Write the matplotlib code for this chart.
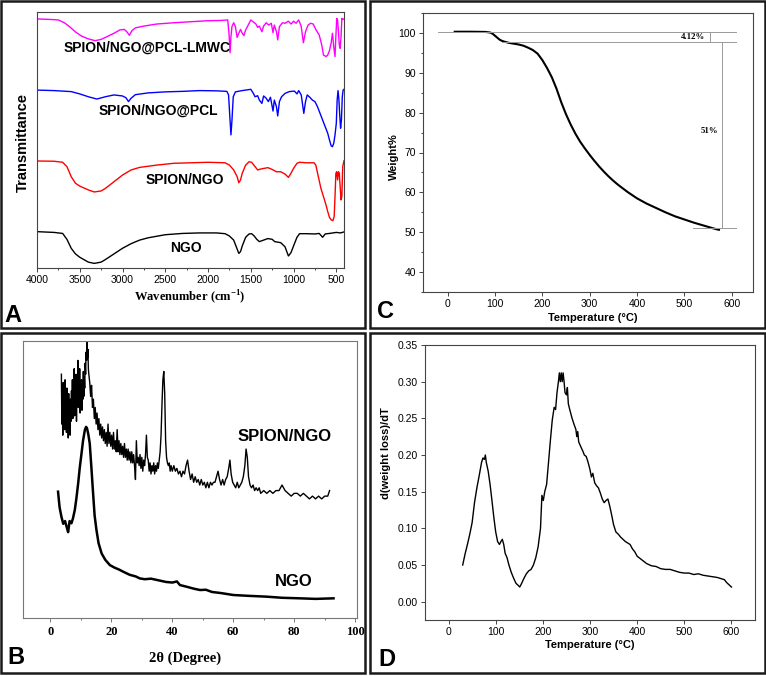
import numpy as np
import matplotlib
matplotlib.use("Agg")
import matplotlib.pyplot as plt
from matplotlib.patches import Rectangle
from matplotlib.ticker import MultipleLocator

W, H = 766, 676
SANS = "Liberation Sans"
SERIF = "Liberation Serif"
plt.rcParams["font.family"] = SANS
plt.rcParams["mathtext.fontset"] = "custom"
plt.rcParams["mathtext.bf"] = "Liberation Serif:bold"

# ---- Panel A: FTIR (stacked, arbitrary transmittance units) ----
ngo_wn = [4000, 3800, 3700, 3650, 3600, 3550, 3500, 3400, 3330, 3250, 3200, 3100, 3000, 2900,
          2800, 2700, 2500, 2300, 2100, 1900, 1800, 1750, 1700, 1670, 1640, 1620, 1600, 1560,
          1520, 1490, 1460, 1430, 1400, 1350, 1300, 1250, 1220, 1150, 1100, 1060, 1030, 1000,
          960, 930, 850, 750, 700, 660, 630, 580, 500, 450, 410]
ngo_t = [14.2, 13.9, 13.5, 11.2, 7.7, 5.5, 4.2, 2.3, 1.8, 2.3, 3.3, 5.5, 7.7, 9.5,
         10.9, 11.8, 13.0, 13.5, 13.7, 13.7, 13.4, 12.5, 10.9, 8.3, 5.7, 6.4, 8.6, 12.0,
         13.3, 13.4, 12.5, 11.2, 10.3, 10.9, 11.5, 11.2, 10.3, 9.9, 8.3, 4.7, 6.0, 8.6,
         12.0, 13.4, 13.4, 13.3, 13.5, 12.0, 13.3, 13.5, 13.9, 13.7, 14.1]

sn_wn = [4000, 3800, 3700, 3650, 3600, 3550, 3500, 3400, 3330, 3250, 3200, 3100, 3000, 2900,
         2800, 2600, 2400, 2200, 2000, 1800, 1750, 1700, 1660, 1640, 1620, 1600, 1560, 1520,
         1490, 1450, 1420, 1380, 1300, 1250, 1200, 1150, 1100, 1060, 1030, 1000, 960, 930,
         850, 760, 740, 710, 680, 650, 620, 600, 580, 560, 540, 525, 515, 505, 495, 485,
         475, 465, 455, 445, 435, 425, 410]
sn_t = [41.8, 41.7, 41.3, 39.6, 35.7, 33.1, 32.0, 30.5, 29.7, 30.1, 31.1, 33.7, 36.3, 38.3,
        39.3, 40.2, 40.9, 41.1, 41.3, 41.1, 40.2, 38.3, 35.7, 33.3, 34.4, 37.0, 40.2, 41.5,
        41.3, 39.6, 38.3, 38.7, 39.2, 38.5, 37.6, 37.6, 36.7, 35.4, 37.0, 38.9, 40.9, 41.3,
        41.1, 41.1, 40.2, 35.7, 31.1, 27.9, 24.6, 22.0, 19.8, 18.8, 18.5, 20.1, 27.9, 37.0,
        37.6, 34.4, 37.6, 37.0, 31.8, 26.6, 28.0, 39.6, 41.9]

pcl_wn = [4000, 3800, 3600, 3500, 3400, 3300, 3200, 3100, 3000, 2960, 2930, 2900, 2850, 2700,
          2500, 2300, 2100, 1900, 1780, 1760, 1745, 1732, 1720, 1705, 1680, 1600, 1500, 1470,
          1450, 1420, 1400, 1370, 1350, 1320, 1295, 1270, 1240, 1225, 1200, 1185, 1165, 1140,
          1100, 1050, 990, 960, 940, 910, 880, 860, 840, 810, 780, 750, 720, 690, 660, 630,
          600, 580, 560, 545, 530, 515, 500, 490, 480, 470, 460, 450, 440, 430, 420, 410]
pcl_t = [69.5, 69.3, 68.9, 68.0, 66.9, 66.0, 66.9, 67.6, 67.2, 66.5, 65.0, 66.3, 67.7, 68.4,
         68.8, 69.0, 69.3, 69.2, 69.0, 67.6, 59.1, 52.0, 57.8, 66.9, 68.8, 69.3, 69.8, 68.2,
         66.9, 67.3, 65.6, 64.3, 67.2, 66.3, 65.0, 66.7, 61.3, 65.6, 63.0, 59.4, 65.0, 66.9,
         68.2, 68.9, 69.1, 68.0, 69.3, 67.6, 60.4, 65.0, 67.6, 66.7, 65.6, 65.0, 63.0, 60.4,
         57.8, 55.2, 52.6, 50.0, 47.7, 47.4, 48.7, 52.0, 56.5, 65.6, 69.3, 66.0, 59.8, 54.6,
         57.8, 66.9, 69.5, 69.8]

lmwc_wn = [4000, 3850, 3750, 3680, 3620, 3550, 3480, 3400, 3320, 3250, 3180, 3100, 3030, 2980,
           2950, 2920, 2890, 2850, 2750, 2600, 2400, 2200, 2000, 1850, 1770, 1755, 1742, 1732,
           1720, 1700, 1680, 1660, 1640, 1620, 1600, 1580, 1560, 1530, 1500, 1470, 1440, 1420,
           1400, 1370, 1350, 1320, 1290, 1260, 1240, 1225, 1200, 1185, 1165, 1130, 1100, 1060,
           1030, 1000, 970, 940, 910, 885, 860, 830, 800, 770, 740, 700, 670, 650, 620, 600,
           580, 560, 545, 530, 515, 505, 495, 485, 475, 465, 455, 445, 435, 425, 410]
lmwc_t = [97.3, 97.1, 96.9, 95.8, 94.3, 92.2, 90.6, 89.5, 88.8, 89.3, 90.4, 91.7, 93.0, 93.2,
          92.3, 90.9, 92.7, 93.8, 94.5, 95.3, 95.8, 96.2, 96.6, 96.7, 96.9, 91.7, 84.1, 90.4,
          94.3, 95.8, 94.3, 90.1, 91.7, 93.2, 91.7, 90.8, 93.0, 94.9, 96.9, 96.1, 95.3, 94.0,
          94.5, 92.3, 94.5, 95.8, 94.9, 95.6, 91.9, 94.9, 92.3, 89.1, 94.3, 95.8, 95.6, 96.4,
          95.3, 96.4, 95.6, 96.9, 94.3, 88.0, 92.3, 94.9, 95.6, 95.3, 93.2, 91.0, 87.1, 83.2,
          82.6, 83.2, 84.9, 88.0, 91.7, 86.5, 82.6, 90.4, 97.5, 96.9, 92.3, 87.1, 85.8, 90.0,
          97.5, 97.1, 97.3]

ftir_names = ["SPION/NGO@PCL-LMWC", "SPION/NGO@PCL", "SPION/NGO", "NGO"]
ftir_label_wn = [2709, 2580, 2275, 2263]
ftir_label_t = [85.9, 61.3, 34.4, 7.8]

# ---- Panel B: XRD ----
xrd_ngo_2t = [2.5, 3.0, 3.6, 4.2, 4.8, 5.3, 5.8, 6.3, 6.9, 7.4, 8.0, 8.5, 9.1, 9.6, 10.2, 10.7,
              11.3, 11.7, 12.0, 12.4, 12.9, 13.4, 14.0, 14.5, 15.1, 15.8, 16.8, 18.0, 19.5,
              21.0, 22.5, 23.9, 26.0, 28.0, 29.3, 31.0, 33.0, 35.9, 38.0, 40.0, 41.5, 42.5,
              45.0, 47.0, 49.1, 51.0, 53.0, 56.0, 60.0, 65.0, 71.0, 76.0, 81.9, 87.0, 92.9]
xrd_ngo_i = [45.6, 40.0, 36.6, 34.0, 35.0, 33.0, 31.0, 35.0, 34.2, 36.0, 39.0, 43.0, 48.6, 54.0,
             59.4, 64.0, 67.9, 69.0, 68.5, 66.5, 63.0, 55.0, 45.0, 37.0, 31.8, 27.0, 23.3,
             21.0, 19.1, 18.2, 17.5, 16.7, 15.6, 15.0, 14.3, 14.0, 14.2, 13.5, 13.0, 12.8,
             13.2, 11.9, 11.2, 10.6, 10.1, 10.2, 9.4, 9.0, 8.3, 8.0, 7.7, 7.3, 7.1, 6.9, 7.1]

xrd_sn_2t = [3.60, 3.75, 3.90, 4.05, 4.20, 4.35, 4.50, 4.65, 4.80, 4.95, 5.10, 5.25, 5.40, 5.55,
             5.70, 5.85, 6.00, 6.15, 6.30, 6.45, 6.60, 6.75, 6.90, 7.05, 7.20, 7.35, 7.50, 7.65,
             7.80, 7.95, 8.10, 8.25, 8.40, 8.55, 8.70, 8.85, 9.00, 9.15, 9.30, 9.45, 9.60, 9.75,
             9.90, 10.05, 10.20, 10.35, 10.50, 10.65, 10.80, 10.95, 11.10, 11.25, 11.40, 11.55,
             11.70, 11.85, 12.00, 12.15, 12.30, 12.45, 12.60,
             12.9, 13.2, 13.5, 13.8, 14.1, 14.4, 14.7, 15.0, 15.3, 15.6, 15.9, 16.2, 16.5,
             16.8, 17.1, 17.4, 17.7, 18.0, 18.3, 18.6, 18.9, 19.2, 19.5, 19.8, 20.1, 20.4,
             20.7, 21.0, 21.3, 21.6, 21.9, 22.2, 22.5, 22.8, 23.1, 23.4, 23.7, 24.0, 24.3,
             24.6, 24.9, 25.2, 25.5, 25.8, 26.1, 26.4, 26.7, 27.0, 27.3, 27.6, 27.9, 28.2,
             28.5, 28.8, 29.1, 29.4, 29.7, 30.0, 30.3, 30.6, 30.9, 31.2, 31.5, 31.8, 32.1,
             32.4, 32.7, 33.0, 33.3, 33.6, 33.9, 34.2, 34.5, 34.8, 35.1, 35.4, 35.7, 36.0,
             36.3, 36.6, 36.9, 37.2, 37.5, 37.8, 38.1, 38.4, 38.7, 39.0, 39.3, 39.6, 40.0,
             40.5, 41.0, 41.5, 42.0, 42.5, 43.0, 43.5, 44.0, 44.5, 45.0, 45.5, 46.0, 46.5,
             47.0, 47.5, 48.0, 48.5, 49.0, 49.5, 50.0, 50.5, 51.0, 51.5, 52.0, 52.5, 53.0,
             53.5, 54.0, 54.5, 55.0, 55.5, 56.0, 56.5, 57.0, 57.5, 58.0, 58.5, 58.9, 59.3,
             59.8, 60.3, 60.8, 61.3, 61.8, 62.3, 62.8, 63.3, 63.8, 64.2, 64.6, 65.0, 65.5,
             66.0, 66.5, 67.0, 67.5, 68.0, 68.5, 69.0, 70.0, 71.0, 72.0, 73.0, 74.0, 75.0,
             76.0, 77.0, 78.0, 79.0, 80.0, 81.0, 82.0, 83.0, 84.0, 85.0, 86.0, 87.0, 88.0,
             89.0, 90.0, 91.0, 91.6]
xrd_sn_i = [88, 70, 80, 66, 85, 72, 78, 68, 86, 71, 80, 67, 83, 72,
            76, 65, 81, 70, 74, 66, 79, 71, 82, 74, 86, 72, 84, 75,
            90, 73, 85, 76, 88, 71, 83, 77, 93, 76, 87, 78, 90, 74,
            84, 77, 86, 75, 84, 79, 89, 80, 87, 83, 92, 88,
            96, 93, 100, 94, 97, 90, 88,
            85, 80, 84, 76, 79, 72, 76, 70, 74, 68, 72, 66, 70,
            65, 69, 64, 68, 63, 67, 62, 70, 63, 67, 62, 66, 61,
            67, 61, 64, 60, 68, 60, 64, 59, 63, 59, 62, 58, 63,
            58, 61, 57, 61, 57, 60, 56, 60, 56, 59, 55, 50, 64,
            56, 58, 55, 59, 54, 58, 53, 57, 55, 59, 66, 58, 57,
            53, 56, 52, 55, 53, 56, 52, 55, 53, 56, 54, 57, 60,
            66, 77, 86, 89, 81, 64, 58, 56, 55, 56, 53, 55, 53,
            55, 53, 54, 52, 53, 51, 53, 52, 55, 57, 53, 50, 52,
            49, 51, 49, 50, 48, 50, 48, 49, 47, 49, 47, 49, 48,
            49, 49, 51, 53, 50, 48, 50, 48, 50, 51, 54, 57, 52,
            49, 48, 47, 49, 47, 48, 49, 51, 55, 61, 58, 51, 48,
            47, 48, 46, 47, 46, 47, 45, 46, 45, 46, 45, 46, 46,
            48, 46, 45, 44, 45, 45, 44, 45, 44, 43, 44, 43, 44,
            43, 44, 44, 46]
xrd_names = ["SPION/NGO", "NGO"]
xrd_label_2t = [77.0, 79.7]
xrd_label_i = [65.7, 13.1]

# ---- Panel C: TGA ----
tga_temp = [15, 50, 80, 90, 95, 100, 105, 110, 115, 120, 130, 140, 150, 160, 170, 180, 190, 200,
            210, 220, 230, 240, 250, 260, 270, 280, 290, 300, 310, 320, 330, 340, 350, 360, 370,
            380, 390, 400, 420, 440, 460, 480, 500, 520, 540, 560, 573]
tga_wt = [100.3, 100.3, 100.25, 100.1, 99.8, 99.3, 98.8, 98.3, 98.0, 97.8, 97.5, 97.3, 97.1,
          96.8, 96.3, 95.7, 94.8, 93.2, 91.2, 88.9, 86.0, 82.6, 79.6, 77.0, 74.7, 72.7, 71.0,
          69.4, 67.9, 66.5, 65.2, 64.0, 62.9, 61.9, 61.0, 60.1, 59.3, 58.5, 57.2, 56.1, 55.0,
          54.0, 53.2, 52.4, 51.7, 51.0, 50.6]

# ---- Panel D: DTG ----
dtg_temp = [30, 35, 40, 45, 50, 55, 60, 65, 70, 73, 76, 78, 80, 84, 88, 92, 96, 100, 104, 108,
            111, 114, 117, 120, 124, 128, 133, 138, 143, 148, 151, 155, 160, 165, 170, 175,
            180, 185, 190, 195, 198, 201, 204, 208, 212, 216, 220, 224, 227, 230, 233, 235,
            237, 239, 241, 243, 245, 247, 250, 252, 254, 257, 262, 266, 270, 272, 274, 276,
            280, 285, 288, 292, 296, 300, 303, 306, 310, 314, 318, 322, 326, 330, 334, 338,
            342, 346, 350, 355, 360, 365, 370, 375, 380, 385, 390, 395, 400, 410, 420, 430,
            440, 450, 460, 470, 480, 490, 500, 510, 520, 530, 540, 550, 560, 570, 580, 585,
            590, 595, 600]
dtg_val = [0.050, 0.065, 0.078, 0.092, 0.108, 0.135, 0.155, 0.172, 0.190, 0.196, 0.194, 0.200,
           0.190, 0.178, 0.160, 0.138, 0.115, 0.095, 0.082, 0.078, 0.082, 0.085, 0.078, 0.066,
           0.060, 0.050, 0.040, 0.032, 0.025, 0.022, 0.020, 0.025, 0.032, 0.038, 0.042, 0.044,
           0.050, 0.060, 0.075, 0.100, 0.145, 0.138, 0.150, 0.160, 0.190, 0.220, 0.248, 0.265,
           0.262, 0.285, 0.300, 0.312, 0.300, 0.312, 0.300, 0.312, 0.300, 0.285, 0.282, 0.292,
           0.270, 0.262, 0.250, 0.242, 0.235, 0.225, 0.232, 0.218, 0.212, 0.205, 0.200, 0.198,
           0.190, 0.180, 0.170, 0.175, 0.162, 0.158, 0.155, 0.148, 0.140, 0.135, 0.138, 0.140,
           0.130, 0.118, 0.105, 0.095, 0.092, 0.088, 0.085, 0.082, 0.080, 0.078, 0.072, 0.068,
           0.062, 0.057, 0.052, 0.049, 0.048, 0.045, 0.044, 0.044, 0.042, 0.040, 0.039, 0.039,
           0.037, 0.038, 0.036, 0.035, 0.034, 0.033, 0.031, 0.030, 0.026, 0.023, 0.020]


def px_axes(fig, x0, y0, x1, y1):
    return fig.add_axes([x0 / W, 1 - y1 / H, (x1 - x0) / W, (y1 - y0) / H])


def px_text(fig, x, y, s, **kw):
    kw.setdefault("ha", "center")
    kw.setdefault("va", "center")
    fig.text(x / W, 1 - y / H, s, **kw)


def style_spines(ax, color="#444444", lw=0.8):
    for sp in ax.spines.values():
        sp.set_color(color)
        sp.set_linewidth(lw)
    ax.tick_params(which="both", direction="out", color=color, width=0.7)
    ax.tick_params(which="major", length=3)
    ax.tick_params(which="minor", length=1.5)


fig = plt.figure(figsize=(W / 100, H / 100), dpi=100)

# panel frames
for x0, y0, x1, y1 in [(1, 1, 364.5, 328), (370, 1, 765, 328), (1, 333, 364.5, 673), (370, 333, 765, 673)]:
    fig.add_artist(Rectangle((x0 / W, 1 - y1 / H), (x1 - x0) / W, (y1 - y0) / H,
                             transform=fig.transFigure, fill=False, lw=1.8, ec="#1a1a1a"))

# ---- A ----
axA = px_axes(fig, 37, 12, 344, 268)
axA.plot(lmwc_wn, lmwc_t, color="#ff00ff", lw=1.0)
axA.plot(pcl_wn, pcl_t, color="#0000ff", lw=1.0)
axA.plot(sn_wn, sn_t, color="#ff0000", lw=1.0)
axA.plot(ngo_wn, ngo_t, color="#000000", lw=1.0)
axA.set_xlim(4000, 410)
axA.set_ylim(0, 100)
axA.set_yticks([])
axA.xaxis.set_major_locator(MultipleLocator(500))
axA.xaxis.set_minor_locator(MultipleLocator(250))
style_spines(axA)
axA.tick_params(axis="x", labelsize=7.5, pad=2)
for name, wx, ty in zip(ftir_names, ftir_label_wn, ftir_label_t):
    axA.text(wx, ty, name, ha="center", va="center", fontsize=10, fontweight="bold")
px_text(fig, 190, 297, r"Wavenumber (cm$^{\mathbf{-1}}$)", family=SERIF, fontweight="bold", fontsize=9)
px_text(fig, 23, 143, "Transmittance", rotation=90, fontweight="bold", fontsize=10.5)
px_text(fig, 13, 315, "A", fontweight="bold", fontsize=17)

# ---- C ----
axC = px_axes(fig, 423, 13, 753, 292)
axC.plot(tga_temp, tga_wt, color="#000000", lw=1.5)
axC.set_xlim(-52, 645)
axC.set_ylim(35, 105)
axC.set_yticks([40, 50, 60, 70, 80, 90, 100])
axC.yaxis.set_minor_locator(MultipleLocator(5))
axC.xaxis.set_major_locator(MultipleLocator(100))
style_spines(axC)
axC.tick_params(labelsize=7.5, pad=2)
gray = "#999999"
axC.plot([-20, 610], [100.3, 100.3], color=gray, lw=0.7)
axC.plot([114, 610], [97.7, 97.7], color=gray, lw=0.7)
axC.plot([554, 554], [100.3, 97.7], color=gray, lw=0.7)
axC.plot([580, 580], [97.7, 51.0], color=gray, lw=0.7)
axC.plot([519, 610], [51.0, 51.0], color=gray, lw=0.7)
axC.text(518, 99.0, "4.12%", family=SERIF, fontweight="bold", fontsize=6.3, ha="center", va="center")
axC.text(553, 75.3, "51%", family=SERIF, fontweight="bold", fontsize=6.3, ha="center", va="center")
px_text(fig, 593, 318, "Temperature (\u00b0C)", fontweight="bold", fontsize=8)
px_text(fig, 394, 157, "Weight%", rotation=90, fontweight="bold", fontsize=8)
px_text(fig, 385, 311, "C", fontweight="bold", fontsize=17)

# ---- B ----
axB = px_axes(fig, 23, 341, 357, 618)
axB.plot(xrd_sn_2t, xrd_sn_i, color="#000000", lw=1.0)
axB.plot(xrd_ngo_2t, xrd_ngo_i, color="#000000", lw=1.8)
axB.set_xlim(-9, 100.6)
axB.set_ylim(0, 100)
axB.set_yticks([])
axB.xaxis.set_major_locator(MultipleLocator(20))
axB.xaxis.set_minor_locator(MultipleLocator(10))
style_spines(axB, color="#777777")
axB.tick_params(axis="x", labelsize=9, pad=3)
for lbl in axB.get_xticklabels():
    lbl.set_family(SERIF)
    lbl.set_fontweight("bold")
for name, xx, yy in zip(xrd_names, xrd_label_2t, xrd_label_i):
    axB.text(xx, yy, name, ha="center", va="center", fontsize=12, fontweight="bold")
px_text(fig, 185, 658, "2\u03b8 (Degree)", family=SERIF, fontweight="bold", fontsize=10.5)
px_text(fig, 16, 658, "B", fontweight="bold", fontsize=17)

# ---- D ----
axD = px_axes(fig, 425, 345, 755, 620)
axD.plot(dtg_temp, dtg_val, color="#000000", lw=1.0)
axD.set_xlim(-50, 650)
axD.set_ylim(-0.025, 0.35)
axD.set_yticks([0.0, 0.05, 0.10, 0.15, 0.20, 0.25, 0.30, 0.35])
axD.yaxis.set_major_formatter(matplotlib.ticker.FormatStrFormatter("%.2f"))
axD.xaxis.set_major_locator(MultipleLocator(100))
style_spines(axD)
axD.tick_params(labelsize=7.5, pad=2)
px_text(fig, 590, 645, "Temperature (\u00b0C)", fontweight="bold", fontsize=8)
px_text(fig, 386, 453, "d(weight loss)/dT", rotation=90, fontweight="bold", fontsize=8)
px_text(fig, 387, 659, "D", fontweight="bold", fontsize=17)

fig.savefig("out.png", dpi=100)
